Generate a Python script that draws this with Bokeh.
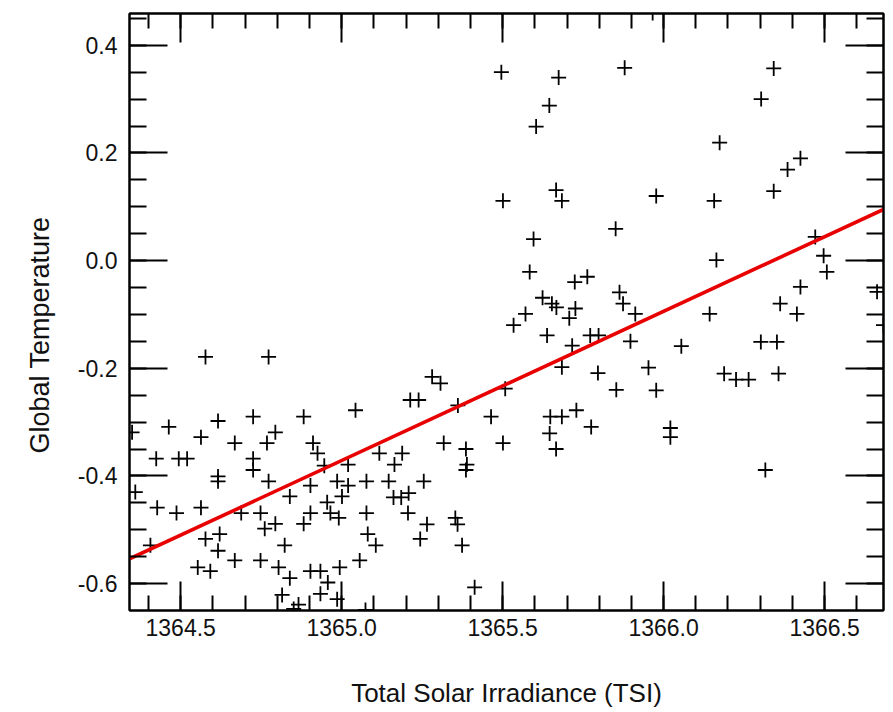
import math
from bokeh.plotting import figure
from bokeh.models import (Range1d, LinearAxis, SingleIntervalTicker,
                          PrintfTickFormatter, Title, ColumnDataSource)
from bokeh.embed import file_html
from bokeh.resources import INLINE

# ---------------- data ----------------
tsi = [
    1365.496, 1365.674, 1365.645, 1365.604, 1365.879, 1365.666, 1365.501, 1365.684,
    1365.851, 1365.596, 1365.584, 1365.724, 1365.763, 1365.863, 1365.874, 1365.624,
    1365.653, 1365.667, 1365.726, 1365.571, 1365.707, 1365.966, 1366.342, 1366.303,
    1366.174, 1366.425, 1366.385, 1365.977, 1366.157, 1366.342, 1366.471, 1366.497,
    1366.507, 1366.164, 1366.425, 1366.362, 1366.414, 1366.143, 1365.912, 1366.663,
    1366.683,
    1365.534, 1365.638, 1365.772, 1365.798, 1365.897, 1365.716, 1365.684, 1365.796,
    1365.853, 1365.281, 1365.307, 1365.213, 1365.239, 1365.508, 1365.361, 1365.464,
    1365.648, 1365.684, 1365.729, 1365.646, 1365.775, 1365.666, 1365.317, 1365.501,
    1365.386, 1365.389, 1365.386, 1365.117, 1365.188, 1365.164, 1365.146, 1365.255,
    1365.161, 1365.185, 1365.208, 1365.206, 1365.265, 1365.353, 1365.360, 1365.244,
    1365.374, 1365.413, 1366.055, 1365.953, 1365.977, 1366.021, 1366.021, 1366.188,
    1366.225, 1366.264, 1366.302, 1366.352, 1366.357, 1366.316,
    1364.577, 1364.773, 1365.043, 1364.725, 1364.616, 1364.882, 1364.463, 1364.349,
    1364.794, 1364.563, 1364.768, 1364.668, 1364.911, 1364.925, 1364.424, 1364.494,
    1364.520, 1364.725, 1364.725, 1364.946, 1365.020, 1364.616, 1364.616, 1364.773,
    1364.986, 1365.020, 1365.077, 1364.903, 1364.359, 1364.839, 1365.001, 1364.955,
    1364.427, 1364.563, 1364.487, 1364.688, 1364.748, 1364.903, 1364.965, 1364.991,
    1365.077, 1364.882, 1364.794, 1364.761, 1364.621, 1364.577, 1365.081, 1365.106,
    1364.406, 1364.823, 1364.616, 1364.668, 1364.748, 1365.056, 1364.553, 1364.592,
    1364.804, 1364.839, 1364.903, 1364.934, 1364.994, 1364.957, 1364.934, 1364.815,
    1364.986, 1364.866, 1364.851, 1365.074,
]
temp = [
    0.350, 0.340, 0.288, 0.249, 0.358, 0.131, 0.111, 0.111,
    0.059, 0.040, -0.021, -0.040, -0.030, -0.059, -0.080, -0.069,
    -0.080, -0.087, -0.089, -0.099, -0.107, 0.460, 0.357, 0.300,
    0.219, 0.190, 0.169, 0.120, 0.111, 0.129, 0.044, 0.009,
    -0.021, 0.001, -0.049, -0.080, -0.099, -0.099, -0.099, -0.058,
    -0.120,
    -0.120, -0.139, -0.139, -0.139, -0.150, -0.158, -0.198, -0.209,
    -0.240, -0.216, -0.228, -0.259, -0.259, -0.238, -0.269, -0.290,
    -0.290, -0.290, -0.278, -0.321, -0.309, -0.350, -0.339, -0.339,
    -0.350, -0.379, -0.389, -0.358, -0.358, -0.379, -0.410, -0.410,
    -0.440, -0.440, -0.432, -0.469, -0.490, -0.478, -0.490, -0.517,
    -0.529, -0.607, -0.159, -0.199, -0.241, -0.311, -0.328, -0.210,
    -0.221, -0.221, -0.151, -0.151, -0.210, -0.389,
    -0.179, -0.179, -0.278, -0.290, -0.298, -0.290, -0.309, -0.319,
    -0.319, -0.328, -0.339, -0.339, -0.339, -0.358, -0.368, -0.368,
    -0.368, -0.368, -0.389, -0.381, -0.379, -0.401, -0.410, -0.410,
    -0.410, -0.418, -0.410, -0.418, -0.430, -0.438, -0.438, -0.449,
    -0.459, -0.459, -0.469, -0.469, -0.469, -0.469, -0.469, -0.478,
    -0.469, -0.489, -0.489, -0.498, -0.508, -0.517, -0.508, -0.529,
    -0.529, -0.529, -0.539, -0.557, -0.557, -0.557, -0.570, -0.577,
    -0.570, -0.590, -0.577, -0.577, -0.570, -0.598, -0.619, -0.621,
    -0.629, -0.639, -0.647, -0.649,
]

# regression line end points (as drawn in the reference)
fit_tsi = [1364.341, 1366.683]
fit_temp = [-0.554, 0.095]

x_limits = (1364.341, 1366.683)
y_limits = (-0.650, 0.459)

x_title = "Total Solar Irradiance (TSI)"
y_title = "Global Temperature"

FONT = "Liberation Sans"

# ---------------- figure ----------------
p = figure(width=893, height=712,
           x_range=Range1d(*x_limits), y_range=Range1d(*y_limits),
           output_backend="svg", toolbar_location=None,
           x_axis_location=None, y_axis_location=None,
           min_border_left=129, min_border_right=10,
           min_border_top=13, min_border_bottom=102)
p.xgrid.visible = False
p.ygrid.visible = False
p.outline_line_color = "black"
p.outline_line_width = 2
p.background_fill_color = "white"
p.border_fill_color = "white"


def make_axis(kind, labels):
    if kind == "x":
        ticker = SingleIntervalTicker(interval=0.5, num_minor_ticks=5)
        maj, mnr = 29, 15
    else:
        ticker = SingleIntervalTicker(interval=0.2, num_minor_ticks=4)
        maj, mnr = 38, 17
    ax = LinearAxis(ticker=ticker, formatter=PrintfTickFormatter(format="%.1f"))
    ax.axis_line_color = "black"
    ax.axis_line_width = 2
    ax.major_tick_in = maj
    ax.major_tick_out = 0
    ax.minor_tick_in = mnr
    ax.minor_tick_out = 0
    ax.major_tick_line_color = "black"
    ax.minor_tick_line_color = "black"
    ax.major_tick_line_width = 2
    ax.minor_tick_line_width = 2
    if labels:
        ax.major_label_text_font = FONT
        ax.major_label_text_font_size = "23px"
        ax.major_label_text_color = "#111111"
    else:
        ax.major_label_text_font_size = "1px"
        ax.major_label_text_color = None
        ax.major_label_standoff = 0
    return ax


xb = make_axis("x", True)
xb.major_label_standoff = 8
xb.axis_label = x_title
xb.axis_label_text_font = FONT
xb.axis_label_text_font_size = "26px"
xb.axis_label_text_font_style = "normal"
xb.axis_label_text_color = "#111111"
xb.axis_label_standoff = 39
p.add_layout(xb, "below")

yl = make_axis("y", True)
yl.major_label_standoff = 12
p.add_layout(yl, "left")

p.add_layout(make_axis("x", False), "above")
p.add_layout(make_axis("y", False), "right")

src = ColumnDataSource(data=dict(tsi=tsi, temp=temp))
p.scatter("tsi", "temp", source=src, marker="cross", size=15,
          line_color="black", line_width=1.8)
p.line(fit_tsi, fit_temp, line_color="#e80000", line_width=3.6)

# y-axis title as a side title, so that it can sit lower than the frame centre
ytitle = Title(text=y_title, align="left", offset=157, standoff=40,
               vertical_align="bottom", text_font=FONT, text_font_size="27px",
               text_font_style="normal", text_color="#111111")
p.add_layout(ytitle, "left")

open("out.html", "w").write(file_html(p, INLINE))
